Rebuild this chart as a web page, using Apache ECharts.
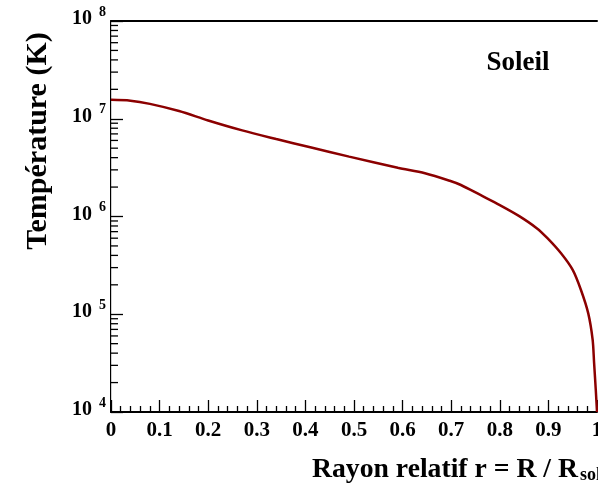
<!DOCTYPE html>
<html>
<head>
<meta charset="utf-8">
<script src="https://cdn.jsdelivr.net/npm/echarts@6/dist/echarts.min.js"></script>
<style>
  html, body { margin: 0; padding: 0; background: #fff; }
  #chart { width: 598px; height: 493px; }
</style>
</head>
<body>
<div id="chart"></div>
<script>
// Solar interior temperature profile: relative radius r = R / R_sol vs temperature (K)
const radius = [0, 0.04, 0.08, 0.14, 0.20, 0.27, 0.34, 0.41, 0.49, 0.59, 0.646, 0.697, 0.72,
  0.76, 0.80, 0.84, 0.876, 0.898, 0.926, 0.95, 0.967, 0.982, 0.991, 0.994, 0.9975, 1.0];
const temperature = [1.56e7, 1.53e7, 1.42e7, 1.20e7, 9.6e6, 7.6e6, 6.2e6, 5.1e6, 4.1e6, 3.15e6, 2.77e6, 2.32e6, 2.1e6,
  1.66e6, 1.31e6, 1.01e6, 7.6e5, 6.0e5, 4.2e5, 2.84e5, 1.77e5, 1.02e5, 5.5e4, 3.2e4, 1.68e4, 1.0e4];

// Axis decoration
const xTickLabels = ['0', '0.1', '0.2', '0.3', '0.4', '0.5', '0.6', '0.7', '0.8', '0.9', '1'];
const yDecades = [4, 5, 6, 7];           // 10^4 .. 10^7, each followed by minor ticks 2..9
const yMinorMultipliers = [2, 3, 4, 5, 6, 7, 8, 9];

const FONT = '"Liberation Serif", "Times New Roman", serif';

const curve = radius.map((r, i) => [r, temperature[i]]);
const minorTickValues = [];
yDecades.forEach(d => yMinorMultipliers.forEach(m => minorTickValues.push([0, m * Math.pow(10, d)])));

const chart = echarts.init(document.getElementById('chart'), null, { renderer: 'canvas' });

chart.setOption({
  animation: false,
  backgroundColor: '#fff',
  grid: { left: 111, right: 1, top: 21, bottom: 81, containLabel: false, outerBoundsMode: 'none' },
  xAxis: [{
    type: 'value',
    min: 0, max: 1, interval: 0.1,
    axisLine: { show: true, lineStyle: { color: '#000', width: 2 } },
    axisTick: { show: true, inside: true, length: 12, lineStyle: { color: '#000', width: 1.3 } },
    minorTick: { show: true, splitNumber: 5, length: 6, lineStyle: { color: '#000', width: 1.3 } },
    splitLine: { show: false },
    axisLabel: {
      margin: 8,
      hideOverlap: false,
      showMaxLabel: true,
      fontFamily: FONT, fontWeight: 'bold', fontSize: 21, color: '#000',
      formatter: v => xTickLabels[Math.round(v * 10)]
    }
  }, {
    type: 'value', position: 'top',
    min: 0, max: 1,
    axisLine: { show: true, lineStyle: { color: '#000', width: 2 } },
    axisTick: { show: false }, axisLabel: { show: false }, splitLine: { show: false }
  }],
  yAxis: [{
    type: 'log', logBase: 10,
    min: 1e4, max: 1e8,
    axisLine: { show: true, lineStyle: { color: '#000', width: 2 } },
    axisTick: { show: true, inside: true, length: 12, lineStyle: { color: '#000', width: 1.3 } },
    minorTick: { show: false },
    splitLine: { show: false },
    axisLabel: {
      margin: 5,
      padding: [0, 0, 4, 0],
      formatter: v => '{b|10}{s|' + Math.round(Math.log10(v)) + '}',
      rich: {
        b: { fontFamily: FONT, fontWeight: 'bold', fontSize: 20, color: '#000', lineHeight: 20, verticalAlign: 'bottom' },
        s: { fontFamily: FONT, fontWeight: 'bold', fontSize: 14, color: '#000', lineHeight: 14,
             verticalAlign: 'bottom', padding: [0, 0, 10, 7] }
      }
    }
  }, {
    type: 'log', logBase: 10, position: 'right',
    min: 1e4, max: 1e8,
    axisLine: { show: true, lineStyle: { color: '#d0d0d0', width: 1 } },
    axisTick: { show: false }, axisLabel: { show: false }, splitLine: { show: false }
  }],
  title: {
    left: 312, top: 456, padding: 0,
    text: '{a|Rayon relatif r = R / R}{sub|sol}',
    textStyle: {
      rich: {
        a: { fontFamily: FONT, fontWeight: 'bold', fontSize: 27.7, color: '#000', lineHeight: 28, verticalAlign: 'top' },
        sub: { fontFamily: FONT, fontWeight: 'bold', fontSize: 18, color: '#000', lineHeight: 16,
               verticalAlign: 'bottom', padding: [20, 0, 0, 2] }
      }
    }
  },
  graphic: [{
    type: 'text', x: 38, y: 141, rotation: Math.PI / 2,
    style: { text: 'Température (K)', font: 'bold 30px ' + FONT, fill: '#000', align: 'center', verticalAlign: 'middle' }
  }, {
    type: 'text', x: 518, y: 63,
    style: { text: 'Soleil', font: 'bold 27px ' + FONT, fill: '#000', align: 'center', verticalAlign: 'middle' }
  }],
  series: [{
    type: 'line',
    data: curve,
    showSymbol: false,
    smooth: 0.3,
    clip: true,
    lineStyle: { color: '#8b0000', width: 2.5 },
    z: 3
  }, {
    // minor log ticks on the left axis, 2..9 within each decade
    type: 'custom',
    data: minorTickValues,
    silent: true,
    clip: false,
    renderItem: (params, api) => {
      const p = api.coord([0, api.value(1)]);
      return {
        type: 'line',
        shape: { x1: p[0], y1: p[1], x2: p[0] + 7, y2: p[1] },
        style: { stroke: '#000', lineWidth: 1.3 }
      };
    },
    z: 4
  }]
});
</script>
</body>
</html>
